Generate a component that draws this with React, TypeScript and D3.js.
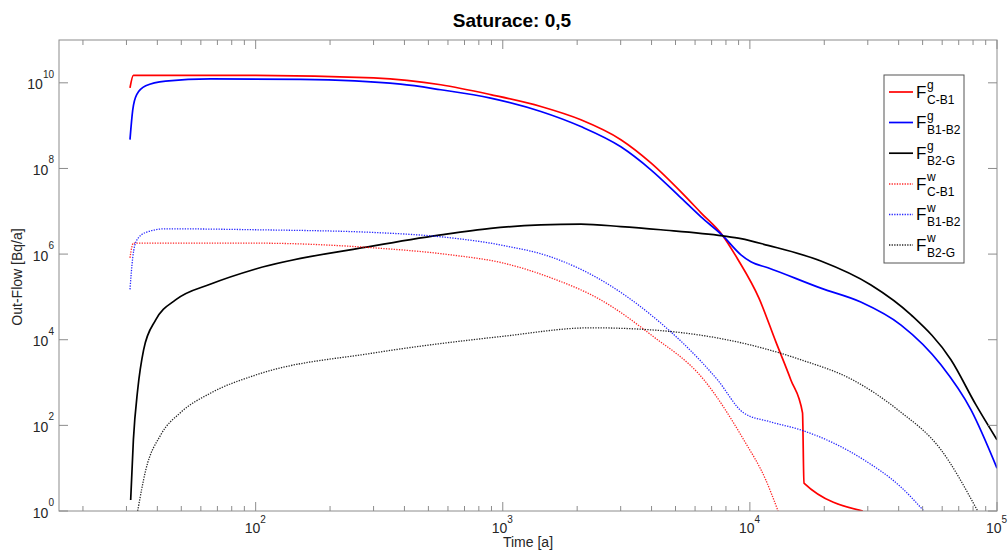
import React from "react";
import * as d3 from "d3";

// ---- data (time [a], out-flow [Bq/a]) ----
const tGCB1 = [31, 32, 100, 300, 561, 893, 1426, 2070, 3005, 3975, 5260, 6340, 7780, 8920, 10870, 12740, 14650, 16330, 16550, 28640];
const fGCB1 = [7.6e9, 1.5e10, 1.5e10, 1.3e10, 9e9, 5.3e9, 2.8e9, 1.37e9, 4.7e8, 1.35e8, 2.84e7, 9.2e6, 2.66e6, 7.7e5, 9.5e4, 8.9e3, 1.15e3, 195, 4.5, 1];

const tGB1B2 = [31, 31.8, 33, 35.9, 43.2, 65.8, 152, 386, 561, 893, 1426, 2070, 3005, 3975, 5260, 6340, 7780, 9200, 10090, 11830, 19370, 28100, 40900, 59300, 78500, 100000];
const fGB1B2 = [4.7e8, 2.3e9, 5.3e9, 8.5e9, 1.1e10, 1.24e10, 1.2e10, 9.3e9, 6.9e9, 4.4e9, 2.14e9, 9.5e8, 3.2e8, 9.3e7, 2.06e7, 7.4e6, 2.66e6, 9.6e5, 6.6e5, 4.8e5, 1.6e5, 7.6e4, 2.2e4, 2.6e3, 230, 10];

const tGB2G = [31.2, 32, 33.3, 35.2, 39.4, 47.4, 65.8, 100, 300, 561, 893, 1426, 2070, 3005, 4360, 7780, 9200, 11830, 19370, 30900, 44900, 65100, 82200, 100000];
const fGB2G = [1.8, 46, 670, 5.8e3, 2.9e4, 8.5e4, 2.0e5, 4.5e5, 1.55e6, 2.8e6, 4.0e6, 4.8e6, 5.0e6, 4.4e6, 3.7e6, 2.66e6, 2.3e6, 1.6e6, 6.9e5, 1.9e5, 3.8e4, 3.4e3, 300, 46];

const tWCB1 = [31, 32, 100, 300, 615, 1000, 1564, 2493, 3980, 6520, 9440, 11600, 13000];
const fWCB1 = [8.2e5, 1.8e6, 1.8e6, 1.4e6, 9.6e5, 6.2e5, 2.8e5, 8.5e4, 1.3e4, 1.15e3, 46, 5.3, 1];

const tWB1B2 = [31, 31.8, 33, 35.9, 43.2, 100, 300, 615, 1000, 1564, 2493, 3980, 7400, 9440, 12160, 16100, 29000, 40900, 50600];
const fWB1B2 = [1.5e5, 8.2e5, 2.1e6, 3.2e6, 3.9e6, 3.7e6, 3.2e6, 2.4e6, 1.6e6, 8.6e5, 2.5e5, 3.8e4, 1.15e3, 195, 120, 78, 15.5, 3.6, 1];

const tWB2G = [33.3, 35.9, 41.3, 49.7, 65.8, 100, 300, 1000, 2270, 3980, 10000, 16100, 26100, 39700, 59300, 83500];
const fWB2G = [1, 9, 60, 200, 570, 1.5e3, 4.9e3, 1.2e4, 1.9e4, 1.7e4, 7.6e3, 3.4e3, 1.15e3, 230, 27, 1];

const xTickExps = [2, 3, 4, 5];
const yTickExps = [0, 2, 4, 6, 8, 10];

const series = [
  { t: tGCB1, f: fGCB1, color: "#ff0000", dotted: false, sup: "g", sub: "C-B1" },
  { t: tGB1B2, f: fGB1B2, color: "#0000ff", dotted: false, sup: "g", sub: "B1-B2" },
  { t: tGB2G, f: fGB2G, color: "#000000", dotted: false, sup: "g", sub: "B2-G" },
  { t: tWCB1, f: fWCB1, color: "#ff0000", dotted: true, sup: "w", sub: "C-B1" },
  { t: tWB1B2, f: fWB1B2, color: "#0000ff", dotted: true, sup: "w", sub: "B1-B2" },
  { t: tWB2G, f: fWB2G, color: "#000000", dotted: true, sup: "w", sub: "B2-G" },
];

const L = 59, R = 997, T = 40, B = 511;
const axisColor = "#8c8c8c";
const textColor = "#262626";

export default function App() {
  const x = d3.scaleLog().domain([16, 1e5]).range([L, R]);
  const y = d3.scaleLog().domain([1, 1e11]).range([B, T]);
  const line = d3
    .line<[number, number]>()
    .x((d) => x(d[0]))
    .y((d) => y(d[1]))
    .curve(d3.curveMonotoneX);

  const minor: number[] = [];
  for (let e = 1; e <= 4; e++) {
    for (let m = 2; m <= 9; m++) {
      const v = m * Math.pow(10, e);
      if (v >= 16 && v <= 1e5) minor.push(v);
    }
  }

  const legendYs = [92, 122.5, 153.2, 184, 214.5, 245];

  return (
    <svg width={1008} height={550} style={{ position: "absolute", left: 0, top: 0, fontFamily: "Arial, 'Liberation Sans', sans-serif" }}>
      <rect x={0} y={0} width={1008} height={550} fill="#fff" />
      <defs>
        <clipPath id="plot">
          <rect x={L} y={T} width={R - L} height={B - T} />
        </clipPath>
      </defs>
      <text x={512} y={27} textAnchor="middle" fontWeight="bold" fontSize={19} fill="#000">
        Saturace: 0,5
      </text>

      {/* curves */}
      <g clipPath="url(#plot)">
        {series.map((s, i) => (
          <path
            key={i}
            d={line(s.t.map((t, j) => [t, s.f[j]] as [number, number])) || ""}
            fill="none"
            stroke={s.color}
            strokeWidth={s.dotted ? 1.3 : 1.7}
            strokeDasharray={s.dotted ? "1.3,1.3" : undefined}
            strokeOpacity={s.dotted ? 0.85 : 1}
          />
        ))}
      </g>

      {/* axes box */}
      <rect x={L} y={T} width={R - L} height={B - T} fill="none" stroke={axisColor} strokeWidth={1} />

      {/* x ticks */}
      {minor.map((v, i) => (
        <g key={"mx" + i} stroke={axisColor}>
          <line x1={x(v)} x2={x(v)} y1={B} y2={B - 5} />
          <line x1={x(v)} x2={x(v)} y1={T} y2={T + 5} />
        </g>
      ))}
      {xTickExps.map((e) => {
        const xv = x(Math.pow(10, e));
        return (
          <g key={"x" + e}>
            <line x1={xv} x2={xv} y1={B} y2={B - 9} stroke={axisColor} />
            <line x1={xv} x2={xv} y1={T} y2={T + 9} stroke={axisColor} />
            <text x={xv - 11} y={533} fontSize={14} fill={textColor}>
              10
              <tspan dy={-10} fontSize={10}>{e}</tspan>
            </text>
          </g>
        );
      })}

      {/* y ticks */}
      {yTickExps.map((e) => {
        const yv = y(Math.pow(10, e));
        const s = String(e);
        return (
          <g key={"y" + e}>
            <line x1={L} x2={L + 9} y1={yv} y2={yv} stroke={axisColor} />
            <line x1={R} x2={R - 9} y1={yv} y2={yv} stroke={axisColor} />
            <text x={54 - s.length * 5.6} y={yv + 6.5} fontSize={14} fill={textColor} textAnchor="end">
              10
            </text>
            <text x={54} y={yv - 5} fontSize={10} fill={textColor} textAnchor="end">
              {s}
            </text>
          </g>
        );
      })}

      {/* axis labels */}
      <text x={528} y={547} textAnchor="middle" fontSize={14} fill={textColor}>
        Time [a]
      </text>
      <text transform="translate(21.5,277) rotate(-90)" textAnchor="middle" fontSize={14} fill={textColor}>
        Out-Flow [Bq/a]
      </text>

      {/* legend */}
      <rect x={884} y={75} width={80} height={188} fill="#fff" stroke="#555" strokeWidth={1} />
      {series.map((s, i) => {
        const ly = legendYs[i];
        return (
          <g key={"lg" + i}>
            <line
              x1={889}
              x2={913}
              y1={ly}
              y2={ly}
              stroke={s.color}
              strokeWidth={s.dotted ? 1.3 : 1.7}
              strokeDasharray={s.dotted ? "1.3,1.3" : undefined}
              strokeOpacity={s.dotted ? 0.85 : 1}
            />
            <text x={916} y={ly + 5.5} fontSize={17} fill="#000">F</text>
            <text x={927} y={ly - 3} fontSize={12} fill="#000">{s.sup}</text>
            <text x={927} y={ly + 11.5} fontSize={12} fill="#000">{s.sub}</text>
          </g>
        );
      })}
    </svg>
  );
}
